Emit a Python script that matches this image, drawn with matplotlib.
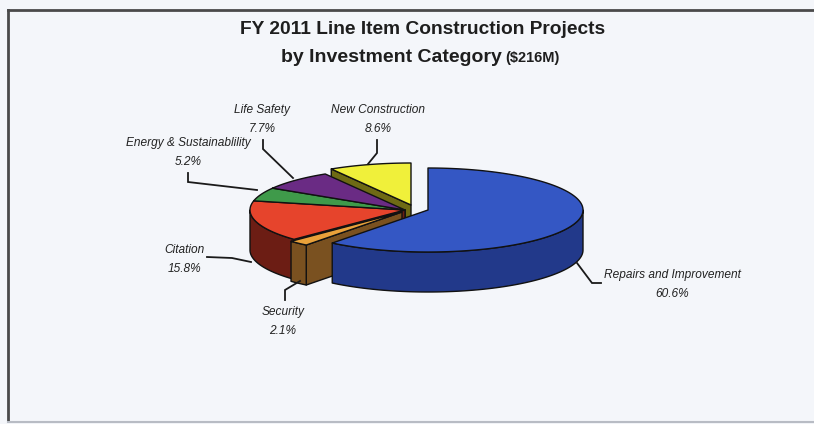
import numpy as np
import matplotlib
matplotlib.use("Agg")
import matplotlib.pyplot as plt
from matplotlib.patches import Polygon

# ---------------- data ----------------
categories = ["Repairs and Improvement", "Security", "Citation",
              "Energy & Sustainablility", "Life Safety", "New Construction"]
shares = [60.6, 2.1, 15.8, 5.2, 7.7, 8.6]
title_line1 = "FY 2011 Line Item Construction Projects"
title_line2 = "by Investment Category"
title_total = "($216M)"

# ---------------- style / layout ----------------
top_colors = ["#3457c4", "#e9a13a", "#e6442c", "#3f9a4a", "#6a2b84", "#f0f03a"]
side_colors = ["#22398a", "#7a5120", "#6c1d14", "#1f5a2a", "#3d1650", "#6e6a14"]
offsets = [(23, 0), (-3, 2), (0, 0), (0, 0), (0, 0), (6, -5)]  # explode (px)
label_pos = [(672, 275), (283, 312), (184, 250), (188, 143), (262, 110), (378, 110)]
leaders = [
    [(577, 263), (592, 283), (601, 283)],
    [(285, 300), (285, 290), (300, 281)],
    [(207, 257), (232, 258), (251, 262)],
    [(188, 173), (188, 182), (257, 190)],
    [(263, 140), (263, 149), (293, 178)],
    [(377, 140), (377, 153), (368, 164)],
]

W, H = 814, 424
cx, cy, rx, ry, depth = 405, 210, 155, 42, 40

fig = plt.figure(figsize=(W / 100, H / 100), dpi=100)
fig.patch.set_facecolor("#f4f6fa")
ax = fig.add_axes([0, 0, 1, 1])
ax.set_xlim(0, W)
ax.set_ylim(H, 0)
ax.axis("off")

# frame
ax.plot([8, W + 5], [10, 10], color="#4a4a4a", lw=2.0, zorder=1)
ax.plot([8, 8], [10, 421], color="#4a4a4a", lw=2.0, zorder=1)
ax.plot([8, W + 5], [421.5, 421.5], color="#b8bcc4", lw=1.5, zorder=1)


def pt(t, ox, oy, dz=0.0):
    r = np.deg2rad(t)
    return (cx + ox + rx * np.cos(r), cy + oy - ry * np.sin(r) + dz)


# angles (clockwise from 12 o'clock)
cum = np.concatenate([[0], np.cumsum(shares)])
a_start = 90 - 3.6 * cum[:-1]
a_end = 90 - 3.6 * cum[1:]

sides = []  # (sort key, polygon, color)
tops = []
for i, share in enumerate(shares):
    a1, a2 = a_start[i], a_end[i]  # a2 < a1
    ox, oy = offsets[i]
    # top face
    ts = np.linspace(a2, a1, max(int(abs(a1 - a2)) * 2, 4))
    poly = [(cx + ox, cy + oy)] + [pt(t, ox, oy) for t in ts]
    tops.append((poly, top_colors[i]))
    # outer arc side (front part: angles within [-180, 0])
    lo, hi = max(a2, -180), min(a1, 0)
    if hi > lo:
        ts = np.linspace(lo, hi, max(int(hi - lo) * 2, 4))
        upper = [pt(t, ox, oy) for t in ts]
        lower = [pt(t, ox, oy, depth) for t in ts[::-1]]
        p = upper + lower
        sides.append((max(q[1] for q in p), p, side_colors[i]))
    # radial faces
    for t, nrm in ((a1, a1 + 90), (a2, a2 - 90)):
        if np.sin(np.deg2rad(nrm)) < -1e-6:
            c0 = (cx + ox, cy + oy)
            e0 = pt(t, ox, oy)
            p = [c0, e0, (e0[0], e0[1] + depth), (c0[0], c0[1] + depth)]
            sides.append((max(q[1] for q in p) - 0.5, p, side_colors[i]))

sides.sort(key=lambda s: s[0])
z = 2
for _, p, col in sides:
    ax.add_patch(Polygon(p, closed=True, facecolor=col, edgecolor="#111111",
                         lw=1.0, joinstyle="round", zorder=z))
    z += 0.01
for p, col in tops:
    ax.add_patch(Polygon(p, closed=True, facecolor=col, edgecolor="#111111",
                         lw=1.0, joinstyle="round", zorder=5))

# labels and leaders
for i, name in enumerate(categories):
    x, y = label_pos[i]
    ax.text(x, y, name, ha="center", va="center", fontsize=8.6,
            style="italic", family="Liberation Sans", color="#222222", zorder=6)
    ax.text(x, y + 19, f"{shares[i]:.1f}%", ha="center", va="center",
            fontsize=8.6, style="italic", family="Liberation Sans",
            color="#222222", zorder=6)
    xs, ys = zip(*leaders[i])
    ax.plot(xs, ys, color="#1a1a1a", lw=1.3, zorder=6,
            solid_joinstyle="miter")

# title
ax.text(423, 30, title_line1, ha="center", va="center", fontsize=13.8,
        fontweight="bold", family="Liberation Sans", color="#1e1e1e")
ax.text(502, 57, title_line2, ha="right", va="center", fontsize=14,
        fontweight="bold", family="Liberation Sans", color="#1e1e1e")
ax.text(505, 58, title_total, ha="left", va="center", fontsize=10.5,
        fontweight="bold", family="Liberation Sans", color="#1e1e1e")

fig.savefig("out.png", dpi=100, facecolor=fig.get_facecolor())
